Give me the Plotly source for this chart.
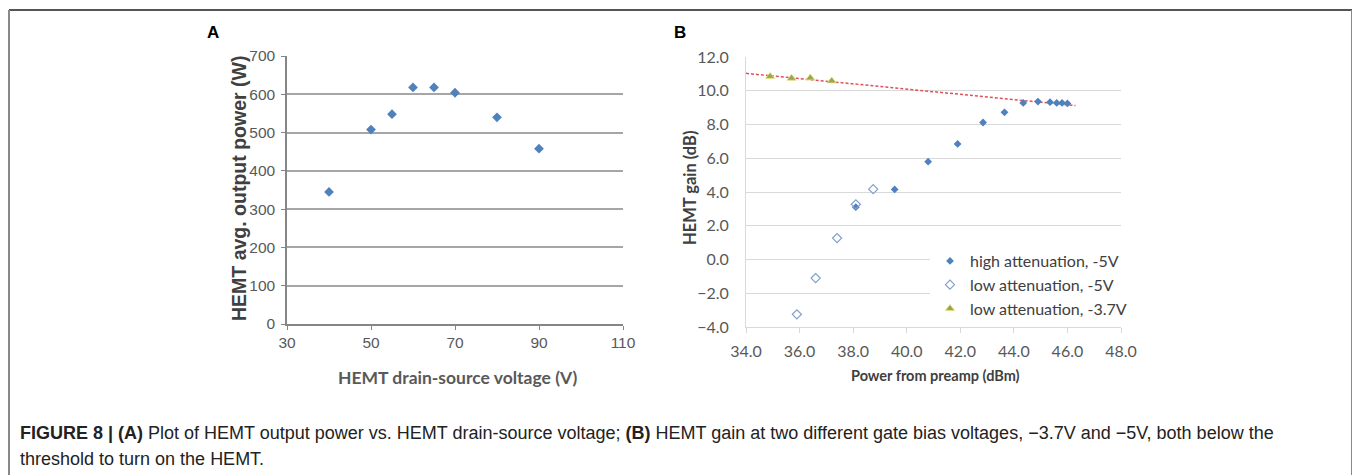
import plotly.graph_objects as go

# ---------------- data ----------------
# Panel A
vds = [40, 50, 55, 60, 65, 70, 80, 90]
pout = [345, 508, 548, 618, 618, 604, 540, 458]
a_xticks = [30, 50, 70, 90, 110]
a_yticks = [0, 100, 200, 300, 400, 500, 600, 700]

# Panel B
hi5_x = [38.1, 39.55, 40.8, 41.9, 42.85, 43.65, 44.35, 44.9, 45.35, 45.6, 45.8, 46.0]
hi5_y = [3.1, 4.15, 5.8, 6.85, 8.12, 8.72, 9.28, 9.36, 9.32, 9.28, 9.28, 9.25]
lo5_x = [35.9, 36.6, 37.4, 38.1, 38.75]
lo5_y = [-3.25, -1.1, 1.27, 3.27, 4.17]
lo37_x = [34.9, 35.7, 36.4, 37.2]
lo37_y = [10.85, 10.74, 10.76, 10.58]
trend_x = [34.0, 46.3]
trend_y = [11.03, 9.12]
b_xticks = [34.0, 36.0, 38.0, 40.0, 42.0, 44.0, 46.0, 48.0]
b_yticks = [-4.0, -2.0, 0.0, 2.0, 4.0, 6.0, 8.0, 10.0, 12.0]

# page body has an 8px margin: the figure starts at (8, 8) of the window
OFF = 8
W, H = 1360 - OFF, 475 - OFF
def px(x):
    return (x - OFF) / W
def py(y):
    return 1 - (y - OFF) / H

BLUE = "#4F81BD"
OLIVE = "#98A848"

fig = go.Figure()

fig.add_trace(go.Scatter(x=vds, y=pout, mode="markers", xaxis="x", yaxis="y",
                         marker=dict(symbol="diamond", size=7.5, color=BLUE),
                         showlegend=False))

fig.add_trace(go.Scatter(x=trend_x, y=trend_y, mode="lines", xaxis="x2", yaxis="y2",
                         line=dict(color="#E0505A", width=1.5, dash="3px,2px"),
                         showlegend=False, hoverinfo="skip"))
fig.add_trace(go.Scatter(x=hi5_x, y=hi5_y, mode="markers", xaxis="x2", yaxis="y2",
                         name="high attenuation, -5V",
                         marker=dict(symbol="diamond", size=6, color=BLUE)))
fig.add_trace(go.Scatter(x=lo5_x, y=lo5_y, mode="markers", xaxis="x2", yaxis="y2",
                         name="low attenuation, -5V",
                         marker=dict(symbol="diamond-open", size=7, color="#7F9FCC",
                                     line=dict(width=1.2))))
fig.add_trace(go.Scatter(x=lo37_x, y=lo37_y, mode="markers", xaxis="x2", yaxis="y2",
                         name="low attenuation, -3.7V",
                         marker=dict(symbol="triangle-up", size=8, color=OLIVE,
                                     line=dict(color="#E8E08A", width=0.8))))

AFONT = "Liberation Sans, Arial, sans-serif"
BFONT = "Lato, Carlito, Calibri, sans-serif"
CLEAR = "rgba(0,0,0,0)"

fig.update_layout(
    width=W, height=H,
    margin=dict(l=0, r=0, t=0, b=0, pad=0, autoexpand=False),
    paper_bgcolor="white", plot_bgcolor="white",
    xaxis=dict(domain=[px(287), px(623)], range=[30, 110], tickvals=a_xticks,
               showgrid=False, zeroline=False, showline=True, linecolor="#868686",
               linewidth=1.5, ticks="outside", ticklen=4, tickcolor="#868686",
               ticklabelstandoff=0,
               tickfont=dict(family=AFONT, size=15.5, color="#595959"), anchor="y",
               fixedrange=True, automargin=False),
    yaxis=dict(domain=[py(324), py(56)], range=[0, 700], tickvals=a_yticks,
               showgrid=True, gridcolor="#A6A6A6", gridwidth=1.5, zeroline=False,
               showline=True, linecolor="#868686", linewidth=1.5, ticks="outside",
               ticklen=4, tickcolor="#868686", ticklabelstandoff=3,
               tickfont=dict(family=AFONT, size=15.5, color="#595959"), anchor="x",
               fixedrange=True, automargin=False),
    xaxis2=dict(domain=[px(746), px(1121)], range=[34, 48], tickvals=b_xticks,
                tickformat=".1f", showgrid=False, zeroline=False, showline=True,
                linecolor="#D9D9D9", linewidth=1, ticks="outside", ticklen=5,
                tickcolor="#D9D9D9", ticklabelstandoff=5,
                tickfont=dict(family=BFONT, size=16, color="#595959"), anchor="y2",
                fixedrange=True, automargin=False),
    yaxis2=dict(domain=[py(327), py(57)], range=[-4, 12], tickvals=b_yticks,
                tickformat=".1f", showgrid=True, gridcolor="#D9D9D9", gridwidth=1,
                zeroline=False, showline=True, linecolor="#D9D9D9", linewidth=1,
                ticks="outside", ticklen=4, tickcolor=CLEAR, ticklabelstandoff=9,
                tickfont=dict(family=BFONT, size=16, color="#595959"),
                anchor="x2", fixedrange=True, automargin=False),
    legend=dict(x=px(930), y=py(244), xanchor="left", yanchor="top",
                bgcolor="white", borderwidth=0,
                font=dict(family=BFONT, size=16, color="#404040"),
                itemwidth=30, tracegroupgap=0),
    showlegend=True,
)

def note(text, x, y, size, family, color, angle=0, xanchor="center"):
    return dict(text=text, x=px(x), y=py(y), xref="paper", yref="paper",
                xanchor=xanchor, yanchor="middle", showarrow=False,
                textangle=angle, font=dict(family=family, size=size, color=color))

ann = [
    note("<b>A</b>", 213, 33, 17, AFONT, "black"),
    note("<b>B</b>", 680, 33, 17, AFONT, "black"),
    note("<b>HEMT avg. output power (W)</b>", 239, 189, 19.5, AFONT, "#404040", angle=-90),
    note("<b>HEMT drain-source voltage (V)</b>", 457, 377, 17.5, BFONT, "#595959"),
    note("<b>HEMT gain (dB)</b>", 690, 188, 16.5, BFONT, "#404040", angle=-90),
    note("<b>Power from preamp (dBm)</b>", 935, 375, 14.5, BFONT, "#404040"),
]
CFONT = "Liberation Sans, Arial, sans-serif"
ann.append(note("<b>FIGURE 8 | (A)</b> Plot of HEMT output power vs. HEMT drain-source voltage; "
                "<b>(B)</b> HEMT gain at two different gate bias voltages, \u22123.7V and \u22125V, both below the",
                18, 433, 18, CFONT, "#222222", xanchor="left"))
ann.append(note("threshold to turn on the HEMT.", 18, 459, 18, CFONT, "#222222", xanchor="left"))
fig.update_layout(annotations=ann)

shapes = [
    dict(type="line", xref="paper", yref="paper", x0=px(9), x1=px(1352), y0=py(10), y1=py(10),
         line=dict(color="#555555", width=2)),
    dict(type="line", xref="paper", yref="paper", x0=px(9), x1=px(9), y0=py(10), y1=0,
         line=dict(color="#888888", width=2)),
    dict(type="line", xref="paper", yref="paper", x0=px(1352), x1=px(1352), y0=py(10), y1=0,
         line=dict(color="#888888", width=2)),
]
fig.update_layout(shapes=shapes)

fig.write_html("out.html")
